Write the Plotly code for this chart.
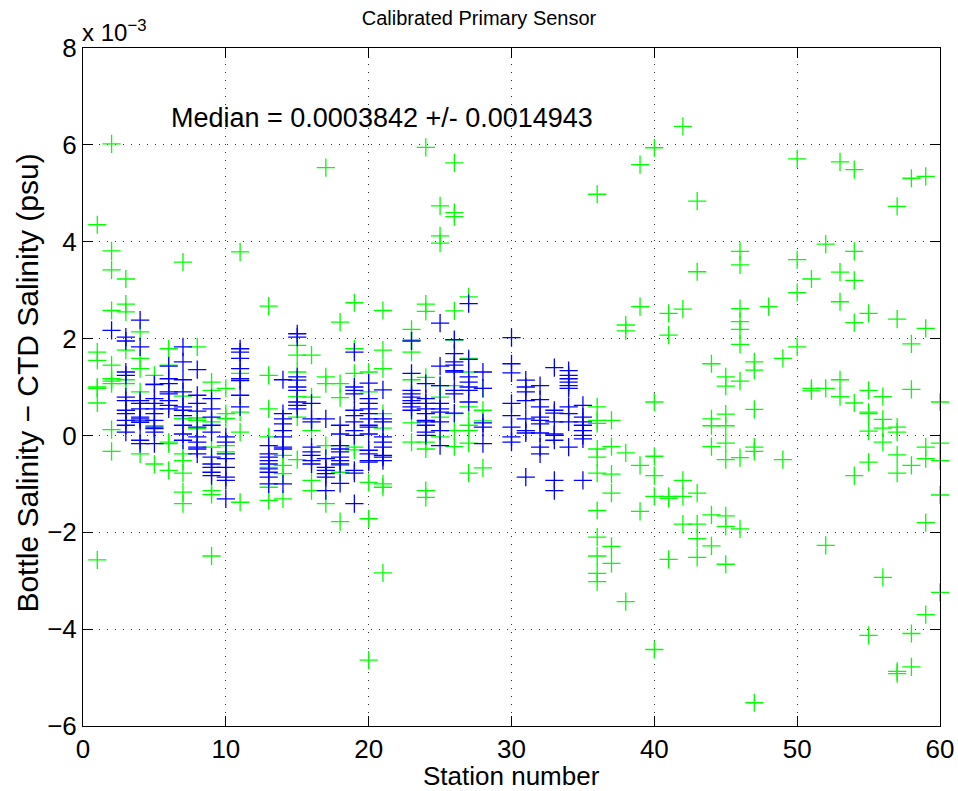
import plotly.graph_objects as go

# Station numbers 1..60
stations = list(range(1, 61))

# Bottle - CTD salinity differences (units of 1e-3 psu), green: all samples
green_values = [
    [4.35, 1.72, 1.55, 1.0, 0.97, 0.67, -2.57],                      # 1
    [6.02, 3.81, 3.42, 2.58, 1.45, 1.17, 1.12, 1.07, 0.12, -0.33],   # 2
    [3.23, 2.71, 2.55, 1.76, 1.15, 1.07],                            # 3
    [2.14, 1.59, 1.38, 0.90, -0.38],                                 # 4
    [1.24, 1.07, 0.20, -0.59],                                       # 5
    [1.79, 1.45, -0.14, -0.17, -0.72],                               # 6
    [3.58, 0.81, 0.35, -0.38, -0.52, -0.78, -1.17, -1.41],           # 7
    [1.83, 0.36, 0.31, 0.14],                                        # 8
    [1.10, 0.93, 0.28, -0.24, -1.14, -1.22, -2.49],                  # 9
    [0.97, 0.45, 0.35, -0.21, -0.34],                                # 10
    [3.79, 1.28, 0.48, 0.07, -1.38],                                 # 11
    [],                                                              # 12
    [2.67, 1.24, 0.55, -0.03, -0.66, -1.07, -1.34],                  # 13
    [-0.41, -0.62, -0.79, -1.31],                                    # 14
    [1.86, 1.66, 1.31, 0.80, 0.38, -0.50],                           # 15
    [1.66, 0.79, 0.10, -0.93, -1.14],                                # 16
    [5.53, 1.21, 1.07, -0.21, -1.41],                                # 17
    [2.34, 1.07, 0.78, -0.62, -0.76, -1.78],                         # 18
    [2.74, 1.79, 1.28, -0.24, -0.30],                                # 19
    [1.31, 0.90, -0.30, -0.97, -1.72, -4.64],                        # 20
    [2.58, 1.76, 1.38, 0.45, 0.15, -1.00, -1.07, -2.84],             # 21
    [],                                                              # 22
    [2.19, 1.97, 1.72, 1.15, 0.26, -0.14],                           # 23
    [5.95, 2.71, 2.56, 1.20, -0.14, -0.28, -1.14, -1.28],            # 24
    [4.74, 4.12, 3.97, 1.03, 0.79, 0.38, -0.03],                     # 25
    [5.63, 4.60, 4.52, 2.57, 1.97, 1.03, 0.45, 0.10, -0.23],         # 26
    [2.86, 1.59, 1.31, 0.59, 0.21, 0.10, -0.16, -0.78],              # 27
    [0.97, 0.52, 0.30, -0.67],                                       # 28
    [], [], [], [], [], [], [],                                      # 29-35
    [4.98, 0.59, 0.31, 0.25, -0.28, -0.45, -0.78, -1.55, -2.10, -2.49, -2.85, -3.02],  # 36
    [0.31, -0.23, -0.80, -1.19, -2.29, -2.64],                       # 37
    [2.28, 2.16, -0.36, -3.43],                                      # 38
    [5.59, 2.66, -0.62, -1.57],                                      # 39
    [5.94, 0.69, -0.43, -0.83, -1.26, -4.42],                        # 40
    [2.52, 2.07, -1.26, -1.30, -2.56],                               # 41
    [6.38, 2.61, -0.93, -1.26, -1.83],                               # 42
    [4.84, 3.38, -1.19, -1.83, -2.13, -2.52],                        # 43
    [1.48, 0.34, 0.20, -0.23, -1.64, -2.28],                         # 44
    [1.21, 1.02, 0.44, 0.20, -0.16, -0.50, -1.66, -1.88, -2.66],     # 45
    [3.80, 3.52, 2.62, 2.35, 2.19, 1.88, 1.12, -0.46, -1.93],        # 46
    [1.52, 1.35, 0.54, -0.24, -0.33, -5.52],                         # 47
    [2.66],                                                          # 48
    [1.59, -0.50],                                                   # 49
    [5.71, 3.63, 2.95, 1.83],                                        # 50
    [3.23, 0.97, 0.92],                                              # 51
    [3.95, 0.97, -2.27],                                             # 52
    [5.65, 3.37, 2.76, 1.15, 0.80],                                  # 53
    [5.49, 3.80, 3.20, 2.33, 0.67, -0.83],                           # 54
    [2.52, 0.93, 0.48, 0.45, 0.09, -0.55, -4.13],                    # 55
    [0.80, 0.33, 0.15, -0.14, -2.93],                                # 56
    [4.73, 2.40, 0.17, 0.07, -0.40, -0.78, -4.87, -4.92],            # 57
    [5.31, 1.89, 0.95, -0.62, -4.09, -4.78],                         # 58
    [5.35, 2.21, -0.24, -0.48, -1.80, -3.70],                        # 59
    [0.69, -0.16, -0.52, -1.23, -3.24],                              # 60
]

# Blue: accepted samples (units of 1e-3 psu)
blue_values = [
    [],                                                              # 1
    [2.17],                                                          # 2
    [2.03, 1.95, 1.31, 1.24, 0.79, 0.72, 0.52, 0.45, 0.31, 0.21, 0.07],   # 3
    [2.38, 1.83, 0.72, 0.66, 0.55, 0.38, 0.34, 0.30, 0.27, -0.10, -0.17], # 4
    [1.05, 0.76, 0.66, 0.55, 0.45, 0.31, 0.17, 0.14, 0.07, -0.17],   # 5
    [1.43, 1.17, 1.07, 0.90, 0.86, 0.72, 0.62, 0.55],                # 6
    [1.83, 1.52, 1.15, 0.90, 0.59, 0.52, 0.41, 0.21, 0.03, -0.10],   # 7
    [1.36, 0.83, 0.66, 0.50, 0.17, -0.03, -0.14, -0.24, -0.28, -0.38],  # 8
    [0.76, 0.55, 0.38, 0.21, 0.07, -0.45, -0.59, -0.66, -0.76, -0.83],  # 9
    [-0.03, -0.14, -0.38, -0.48, -0.66, -0.86, -0.93, -1.31],        # 10
    [1.79, 1.72, 1.59, 1.38, 1.17, 1.13, 0.83, 0.59],                # 11
    [],                                                              # 12
    [-0.21, -0.38, -0.45, -0.52, -0.59, -0.69, -0.76, -0.86, -1.00], # 13
    [1.15, 0.45, 0.34, 0.24, 0.10, -0.03, -0.24, -0.28, -1.00],      # 14
    [2.10, 2.03, 1.21, 1.14, 1.00, 0.93, 0.69, 0.62, 0.55],          # 15
    [0.66, 0.34, 0.28, -0.24, -0.34, -0.41, -0.52, -0.59],           # 16
    [0.34, -0.48, -0.66, -0.72, -0.79, -0.86, -1.14],                # 17
    [0.21, 0.03, -0.21, -0.28, -0.34, -0.45, -0.52, -0.59, -0.99],   # 18
    [1.72, 1.00, 0.93, 0.86, 0.52, 0.41, 0.28, 0.10, 0.0, -0.72, -0.78, -1.41],  # 19
    [1.08, 0.76, 0.66, 0.55, 0.45, 0.34, 0.21, 0.17, 0.03, -0.31, -0.38, -0.52, -0.55],  # 20
    [0.94, 0.34, 0.28, -0.03, -0.14, -0.24, -0.41, -0.45, -0.52],    # 21
    [],                                                              # 22
    [1.95, 1.28, 0.93, 0.86, 0.79, 0.72, 0.66, 0.59, 0.52],          # 23
    [1.07, 0.76, 0.66, 0.55, 0.45, 0.31, 0.28, 0.21, 0.07, 0.0],     # 24
    [2.32, 1.43, 1.03, 0.66, 0.55, 0.48, 0.28, 0.10, -0.21],         # 25
    [1.98, 1.69, 1.52, 1.45, 1.34, 1.31, 0.93, 0.86, 0.46],          # 26
    [2.72, 1.57, 1.21, 1.10, 1.00, 0.93, 0.69],                      # 27
    [1.31, 0.97, 0.26, 0.17, -0.17],                                 # 28
    [],                                                              # 29
    [2.02, 1.48, 1.29, 0.66, 0.41, 0.17, -0.03, -0.14],              # 30
    [1.14, 1.00, 0.90, 0.72, 0.34, 0.10, 0.05, -0.86],               # 31
    [1.03, 0.74, 0.59, 0.38, 0.31, 0.24, 0.05, -0.24, -0.38],        # 32
    [1.40, 0.52, 0.46, 0.28, 0.03, 0.0, -0.10, -0.93, -1.14],        # 33
    [1.34, 1.24, 1.17, 1.10, 1.03, 0.97, 0.59, 0.45, 0.28, -0.24],   # 34
    [0.62, 0.38, 0.28, 0.21, 0.10, 0.0, -0.07, -0.93],               # 35
] + [[] for _ in range(36, 61)]

x_ticks = [0, 10, 20, 30, 40, 50, 60]
y_ticks = [-6, -4, -2, 0, 2, 4, 6, 8]

title_text = "Calibrated Primary Sensor"
median_text = "Median = 0.0003842 +/- 0.0014943"
x_label = "Station number"
y_label = "Bottle Salinity \u2212 CTD Salinity (psu)"


def flatten(values):
    xs, ys = [], []
    for s, vals in zip(stations, values):
        xs += [s] * len(vals)
        ys += vals
    return xs, ys


gx, gy = flatten(green_values)
bx, by = flatten(blue_values)

FONT = "Liberation Sans, Arial, Helvetica, sans-serif"

fig = go.Figure()
fig.add_trace(go.Scatter(
    x=gx, y=gy, mode="markers", showlegend=False, cliponaxis=False,
    marker=dict(symbol="cross-thin", size=13, color="#00ff00",
                line=dict(color="#00ff00", width=1.3)),
))
fig.add_trace(go.Scatter(
    x=bx, y=by, mode="markers", showlegend=False, cliponaxis=False,
    marker=dict(symbol="cross-thin", size=13, color="#0000ff",
                line=dict(color="#0000ff", width=1.3)),
))

axis_common = dict(
    showline=True, linecolor="black", linewidth=1, mirror="ticks",
    ticks="inside", ticklen=10, tickwidth=1, tickcolor="black",
    showgrid=True, gridcolor="#333333", gridwidth=1, griddash="1px,7px",
    zeroline=False, automargin=False,
    tickfont=dict(family=FONT, size=26, color="black"),
)

fig.update_xaxes(range=[0, 60], tickvals=x_ticks, **axis_common)
fig.update_yaxes(range=[-6, 8], tickvals=y_ticks, **axis_common)

# Axis labels as annotations (placed like the reference)
fig.add_annotation(x=0.5, y=-50 / 678, xref="paper", yref="paper", text=x_label,
                   showarrow=False, xanchor="center", yanchor="middle",
                   font=dict(family=FONT, size=26, color="black"))
fig.add_annotation(x=-55 / 857, y=0.505, xref="paper", yref="paper", text=y_label,
                   showarrow=False, xanchor="center", yanchor="middle", textangle=-90,
                   font=dict(family=FONT, size=30, color="black"))

fig.add_annotation(x=6, y=6.55, xref="x", yref="y", text=median_text,
                   showarrow=False, xanchor="left", yanchor="middle",
                   font=dict(family=FONT, size=27, color="black"))
fig.add_annotation(x=0, y=1, xref="paper", yref="paper",
                   text="x 10<sup>\u22123</sup>", showarrow=False,
                   xanchor="left", yanchor="bottom", xshift=-3,
                   font=dict(family=FONT, size=24, color="black"))

fig.update_layout(
    width=958, height=791,
    margin=dict(l=83, r=18, t=48, b=65),
    paper_bgcolor="white", plot_bgcolor="white",
    title=dict(text=title_text, x=0.5, xref="container", xanchor="center",
               y=1 - 18 / 791, yanchor="middle", yref="container",
               font=dict(family=FONT, size=20, color="black")),
    font=dict(family=FONT, color="black"),
)

fig.write_html("out.html")
